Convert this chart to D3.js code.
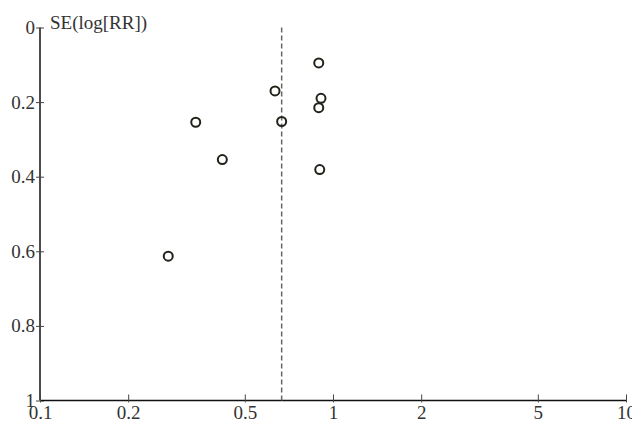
<!DOCTYPE html>
<html><head><meta charset="utf-8">
<script src="https://cdn.jsdelivr.net/npm/d3@7"></script>
<style>body{margin:0;background:#fff}svg{display:block}</style>
</head><body>
<script>
const studyRR = [0.894, 0.634, 0.910, 0.894, 0.340, 0.668, 0.419, 0.901, 0.274];
const studySE = [0.095, 0.170, 0.190, 0.215, 0.254, 0.252, 0.354, 0.381, 0.613];
const pooledRR = 0.668;
const xTicks = [0.1, 0.2, 0.5, 1, 2, 5, 10];
const xTickLabels = ["0.1", "0.2", "0.5", "1", "2", "5", "10"];
const yTicks = [0, 0.2, 0.4, 0.6, 0.8, 1];
const yTickLabels = ["0", "0.2", "0.4", "0.6", "0.8", "1"];
const yTitle = "SE(log[RR])";

const W = 632, H = 421;
const svg = d3.select("body").append("svg").attr("width", W).attr("height", H);
const x = d3.scaleLog().domain([0.1, 10]).range([40, 626]);
const y = d3.scaleLinear().domain([0, 1]).range([27.5, 400.5]);
const font = "'Liberation Serif', 'Times New Roman', serif";

// y axis
const yAxis = svg.append("g").attr("transform", `translate(${x(0.1)},0)`)
  .call(d3.axisLeft(y).tickValues(yTicks).tickFormat((d,i)=>yTickLabels[i]).tickSize(4).tickPadding(1));
yAxis.select(".domain").attr("stroke", "#111").attr("stroke-width", 1.5).attr("d", `M0,${y(0)}V${y(1)}`);
yAxis.selectAll(".tick line").attr("x1", -4).attr("x2", 4).attr("stroke", "#444");
yAxis.selectAll(".tick text").attr("font-family", font).attr("font-size", 19).attr("fill", "#333");

// x axis
const xAxis = svg.append("g").attr("transform", `translate(0,${y(1)})`)
  .call(d3.axisBottom(x).tickValues(xTicks).tickFormat((d,i)=>xTickLabels[i]).tickSize(0).tickPadding(5));
xAxis.select(".domain").attr("stroke", "#111").attr("stroke-width", 1.5).attr("d", `M${x(0.1)},0H${x(10)}`);
xAxis.selectAll(".tick line").attr("y1", -6).attr("y2", 2).attr("stroke", "#444");
xAxis.selectAll(".tick text").attr("font-family", font).attr("font-size", 19).attr("fill", "#333");

// title
svg.append("text").attr("x", 50).attr("y", 29).attr("font-family", font).attr("font-size", 19)
  .attr("fill", "#333").text(yTitle);

// pooled line
svg.append("line").attr("x1", x(pooledRR)).attr("x2", x(pooledRR)).attr("y1", y(0)).attr("y2", y(1))
  .attr("stroke", "#666").attr("stroke-width", 1.5).attr("stroke-dasharray", "5,3");

// points
svg.append("g").selectAll("circle").data(studyRR).join("circle")
  .attr("cx", d => x(d)).attr("cy", (d,i) => y(studySE[i])).attr("r", 4.5)
  .attr("fill", "none").attr("stroke", "#22221a").attr("stroke-width", 2);
</script>
</body></html>
